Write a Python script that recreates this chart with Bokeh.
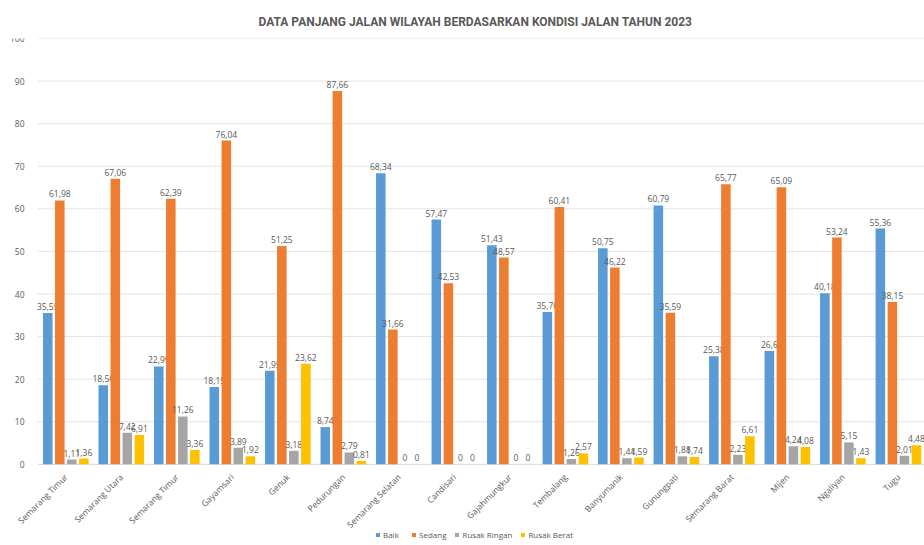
from math import pi
from bokeh.plotting import figure
from bokeh.models import ColumnDataSource, Range1d, FixedTicker, Legend, LegendItem
from bokeh.transform import dodge
from bokeh.embed import file_html
from bokeh.resources import INLINE

categories = ["Semarang Timur", "Semarang Utara", "Semarang Timur", "Gayamsari", "Genuk",
              "Pedurungan", "Semarang Selatan", "Candisari", "Gajahmungkur", "Tembalang",
              "Banyumanik", "Gunungpati", "Semarang Barat", "Mijen", "Ngaliyan", "Tugu"]
baik = [35.55, 18.56, 22.99, 18.15, 21.95, 8.74, 68.34, 57.47, 51.43, 35.76, 50.75, 60.79, 25.38, 26.6, 40.18, 55.36]
sedang = [61.98, 67.06, 62.39, 76.04, 51.25, 87.66, 31.66, 42.53, 48.57, 60.41, 46.22, 35.59, 65.77, 65.09, 53.24, 38.15]
rusak_ringan = [1.11, 7.42, 11.26, 3.89, 3.18, 2.79, 0, 0, 0, 1.26, 1.44, 1.88, 2.23, 4.24, 5.15, 2.01]
rusak_berat = [1.36, 6.91, 3.36, 1.92, 23.62, 0.81, 0, 0, 0, 2.57, 1.59, 1.74, 6.61, 4.08, 1.43, 4.48]
series_names = ["Baik", "Sedang", "Rusak Ringan", "Rusak Berat"]
y_ticks = [0, 10, 20, 30, 40, 50, 60, 70, 80, 90, 100]

colors = ["#5B9BD5", "#ED7D31", "#A5A5A5", "#FFC000"]
offsets = [-0.325, -0.108, 0.108, 0.325]
FONT = "Open Sans"
TXT = "#595959"


def fmt(v):
    return f"{v:g}".replace(".", ",")


idx = list(range(len(categories)))
plot_lo, plot_hi = -0.51, 15.47          # extent of the plotting area (category units)
view_lo = plot_lo - 37 / 55.5            # room on the left for the value labels

p = figure(frame_width=924, frame_height=507, output_backend="svg", toolbar_location=None,
           x_range=Range1d(view_lo, plot_hi), y_range=Range1d(-19.06, 100),
           min_border_left=0, min_border_right=0, min_border_top=38, min_border_bottom=0)
p.title.text = "DATA PANJANG JALAN WILAYAH BERDASARKAN KONDISI JALAN TAHUN 2023"
p.title.align = "left"
p.title.offset = 258
p.title.text_font = "Roboto"
p.title.text_font_size = "12px"
p.title.text_font_style = "bold"
p.title.text_color = TXT
p.title.standoff = 19
p.outline_line_color = None
p.background_fill_color = "white"
p.border_fill_color = "white"

# horizontal gridlines limited to the plotting area
grid_src = ColumnDataSource(dict(x0=[plot_lo] * len(y_ticks), x1=[plot_hi] * len(y_ticks),
                                 y=y_ticks, c=["#d9d9d9"] + ["#e3e3e3"] * (len(y_ticks) - 1)))
p.segment(x0="x0", x1="x1", y0="y", y1="y", source=grid_src, line_color="c", line_width=1)

items = []
for name, vals, col, off in zip(series_names, [baik, sedang, rusak_ringan, rusak_berat], colors, offsets):
    src = ColumnDataSource(dict(x=idx, top=vals, label=[fmt(v) for v in vals]))
    r = p.vbar(x=dodge("x", off), top="top", bottom=0, width=0.172, source=src,
               fill_color=col, line_color=None)
    p.text(x=dodge("x", off), y="top", text="label", source=src, text_align="center",
           text_baseline="bottom", y_offset=-3, text_font_size="8.5px", text_color=TXT,
           text_font={"value": FONT})
    items.append(LegendItem(label=name, renderers=[r]))

legend = Legend(items=items, orientation="horizontal", location=(375, 5),
                glyph_width=5, glyph_height=5, label_standoff=3, spacing=8, padding=0, margin=0,
                label_text_font=FONT, label_text_font_size="8px", label_text_color=TXT,
                border_line_alpha=0, background_fill_alpha=0, label_height=9)
p.add_layout(legend, "center")

p.xaxis.fixed_location = 0
p.xaxis.ticker = FixedTicker(ticks=idx)
p.xaxis.major_label_overrides = {i: c for i, c in enumerate(categories)}
p.xaxis.major_label_orientation = pi / 4
p.xaxis.major_tick_line_color = None
p.xaxis.minor_tick_line_color = None
p.xaxis.axis_line_color = None
p.xaxis.major_label_text_font = FONT
p.xaxis.major_label_text_font_size = "8.5px"
p.xaxis.major_label_text_color = TXT
p.xaxis.major_label_standoff = 5
p.xgrid.grid_line_color = None

p.yaxis.fixed_location = plot_lo
p.yaxis.ticker = FixedTicker(ticks=y_ticks)
p.yaxis.axis_line_color = None
p.yaxis.major_tick_line_color = None
p.yaxis.minor_tick_line_color = None
p.yaxis.major_label_text_font = FONT
p.yaxis.major_label_text_font_size = "8.5px"
p.yaxis.major_label_text_color = TXT
p.yaxis.major_label_standoff = 7
p.ygrid.grid_line_color = None

open("out.html", "w").write(file_html(p, INLINE))
